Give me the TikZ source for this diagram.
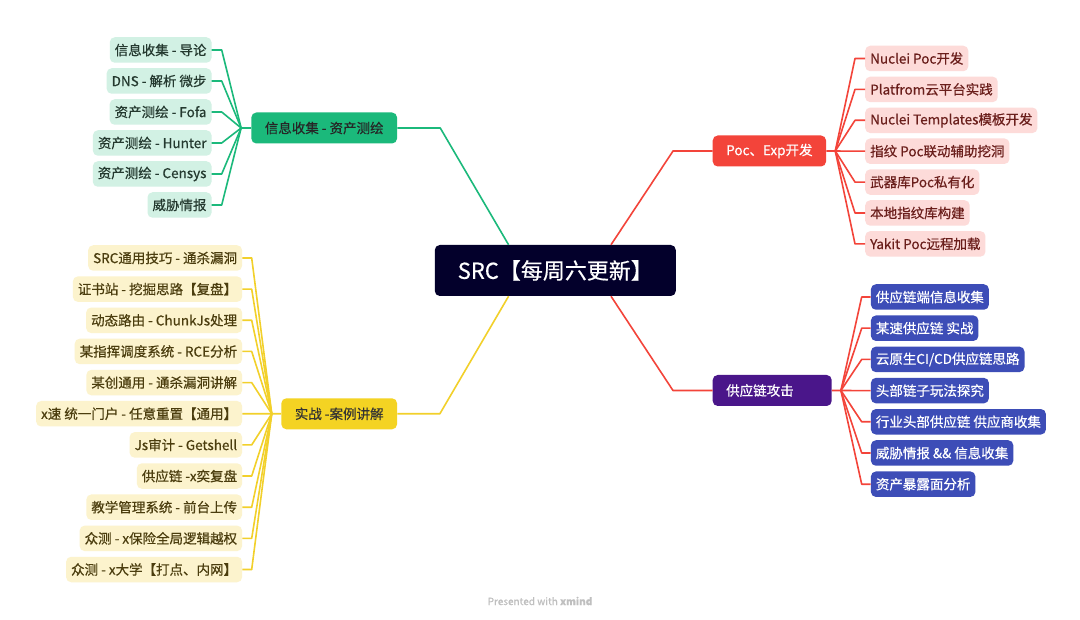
\documentclass[tikz,border=0pt]{standalone}
\usepackage{fontspec}
\newfontfamily\cjk[FakeBold=0.5]{Noto Sans CJK SC}
\usetikzlibrary{positioning}
\definecolor{srcnavy}{HTML}{03002B}
\definecolor{infogreen}{HTML}{1BB97B}
\definecolor{infolight}{HTML}{D2F1E4}
\definecolor{infotext}{HTML}{24392F}
\definecolor{pocred}{HTML}{F3443A}
\definecolor{poclight}{HTML}{FDDBD9}
\definecolor{poctext}{HTML}{6A1E1B}
\definecolor{chainpurple}{HTML}{4A168A}
\definecolor{chainblue}{HTML}{3D4DB7}
\definecolor{caseyellow}{HTML}{F4D323}
\definecolor{caselight}{HTML}{FCF3CD}
\definecolor{casetext}{HTML}{4B3D0E}
\definecolor{casewire}{HTML}{F2D02A}
\tikzset{
  rootnode/.style={rounded corners=5pt,fill=srcnavy,text=white,
    font=\cjk\fontsize{22}{26}\selectfont,
    minimum width=241pt,minimum height=51pt,inner sep=0pt},
  topic/.style={rounded corners=5pt,font=\cjk\fontsize{13.5}{16}\selectfont,
    minimum height=31pt,inner xsep=13.5pt,inner ysep=0pt},
  leaf/.style={rounded corners=5pt,font=\cjk\fontsize{13.5}{16}\selectfont,
    minimum height=25.5pt,inner xsep=5pt,inner ysep=0pt},
  greenleaf/.style={leaf,fill=infolight,text=infotext,anchor=east},
  redleaf/.style={leaf,fill=poclight,text=poctext,anchor=west},
  blueleaf/.style={leaf,fill=chainblue,text=white,anchor=west},
  yellowleaf/.style={leaf,fill=caselight,text=casetext,anchor=east},
  wire/.style={line width=1.6pt,line join=round},
  greenwire/.style={wire,draw=infogreen},
  redwire/.style={wire,draw=pocred},
  yellowwire/.style={wire,draw=casewire}
}
\begin{document}
\begin{tikzpicture}[x=1pt,y=-1pt]
  \fill[white] (0,0) rectangle (1080,620);

  \node [rootnode] (src) at (555.3,270.5) {SRC【每周六更新】};

  % main topics
  \node [topic,fill=infogreen,text=black!85] (info) at (324.2,128) {信息收集 - 资产测绘};
  \node [topic,fill=pocred,text=white] (poc) at (769.4,151) {Poc、Exp开发};
  \node [topic,fill=chainpurple,text=white,text width=92pt,align=left] (chain) at (772.2,390.5) {供应链攻击};
  \node [topic,fill=caseyellow,text=black!80] (case) at (339.2,413.8) {实战 -案例讲解};

  \draw [greenwire] (info.east) -- ([xshift=43pt]info.east) -- ([xshift=74pt]src.north west);
  \draw [redwire] (poc.west) -- ([xshift=-39.5pt]poc.west) -- ([xshift=-65pt]src.north east);
  \draw [redwire] ([xshift=-65pt]src.south east) -- ([xshift=-39.5pt]chain.west) -- (chain.west);
  \draw [yellowwire] ([xshift=74pt]src.south west) -- ([xshift=42.6pt]case.east) -- (case.east);

  \coordinate (infoj) at ([xshift=-10pt]info.west);
  \coordinate (pocj) at ([xshift=9pt]poc.east);
  \coordinate (chainj) at ([xshift=9pt]chain.east);
  \coordinate (casej) at ([xshift=-9.4pt]case.west);

  % green branch
  \node [greenleaf] (i1) at (211.7,50) {信息收集 - 导论};
  \node [greenleaf] (i2) at ([yshift=-31pt]i1.east) {DNS - 解析 微步};
  \node [greenleaf] (i3) at ([yshift=-31pt]i2.east) {资产测绘 - Fofa};
  \node [greenleaf] (i4) at ([yshift=-31pt]i3.east) {资产测绘 - Hunter};
  \node [greenleaf] (i5) at ([yshift=-31pt]i4.east) {资产测绘 - Censys};
  \node [greenleaf] (i6) at ([yshift=-31pt]i5.east) {威胁情报};
  \draw [greenwire] (info.west) -- (infoj) -- ([xshift=10pt]i1.east) -- (i1.east);
  \draw [greenwire] (infoj) -- ([xshift=10pt]i2.east) -- (i2.east);
  \draw [greenwire] (infoj) -- ([xshift=10pt]i3.east) -- (i3.east);
  \draw [greenwire] (infoj) -- ([xshift=10pt]i4.east) -- (i4.east);
  \draw [greenwire] (infoj) -- ([xshift=10pt]i5.east) -- (i5.east);
  \draw [greenwire] (infoj) -- ([xshift=10pt]i6.east) -- (i6.east);

  % red branch
  \node [redleaf] (p1) at (865,58.5) {Nuclei Poc开发};
  \node [redleaf] (p2) at ([yshift=-30.9pt]p1.west) {Platfrom云平台实践};
  \node [redleaf] (p3) at ([yshift=-30.9pt]p2.west) {Nuclei Templates模板开发};
  \node [redleaf] (p4) at ([yshift=-30.9pt]p3.west) {指纹 Poc联动辅助挖洞};
  \node [redleaf] (p5) at ([yshift=-30.9pt]p4.west) {武器库Poc私有化};
  \node [redleaf] (p6) at ([yshift=-30.9pt]p5.west) {本地指纹库构建};
  \node [redleaf] (p7) at ([yshift=-30.9pt]p6.west) {Yakit Poc远程加载};
  \draw [redwire] (poc.east) -- (pocj) -- ([xshift=-10pt]p1.west) -- (p1.west);
  \draw [redwire] (pocj) -- ([xshift=-10pt]p2.west) -- (p2.west);
  \draw [redwire] (pocj) -- ([xshift=-10pt]p3.west) -- (p3.west);
  \draw [redwire] (pocj) -- ([xshift=-10pt]p4.west) -- (p4.west);
  \draw [redwire] (pocj) -- ([xshift=-10pt]p5.west) -- (p5.west);
  \draw [redwire] (pocj) -- ([xshift=-10pt]p6.west) -- (p6.west);
  \draw [redwire] (pocj) -- ([xshift=-10pt]p7.west) -- (p7.west);

  % purple branch
  \node [blueleaf] (c1) at (870.7,297) {供应链端信息收集};
  \node [blueleaf] (c2) at ([yshift=-31.2pt]c1.west) {某速供应链 实战};
  \node [blueleaf] (c3) at ([yshift=-31.2pt]c2.west) {云原生CI/CD供应链思路};
  \node [blueleaf] (c4) at ([yshift=-31.2pt]c3.west) {头部链子玩法探究};
  \node [blueleaf] (c5) at ([yshift=-31.2pt]c4.west) {行业头部供应链 供应商收集};
  \node [blueleaf] (c6) at ([yshift=-31.2pt]c5.west) {威胁情报 \&\& 信息收集};
  \node [blueleaf] (c7) at ([yshift=-31.2pt]c6.west) {资产暴露面分析};
  \draw [redwire] (chain.east) -- (chainj) -- ([xshift=-9pt]c1.west) -- (c1.west);
  \draw [redwire] (chainj) -- ([xshift=-9pt]c2.west) -- (c2.west);
  \draw [redwire] (chainj) -- ([xshift=-9pt]c3.west) -- (c3.west);
  \draw [redwire] (chainj) -- ([xshift=-9pt]c4.west) -- (c4.west);
  \draw [redwire] (chainj) -- ([xshift=-9pt]c5.west) -- (c5.west);
  \draw [redwire] (chainj) -- ([xshift=-9pt]c6.west) -- (c6.west);
  \draw [redwire] (chainj) -- ([xshift=-9pt]c7.west) -- (c7.west);

  % yellow branch
  \node [yellowleaf] (k1) at (242.3,258) {SRC通用技巧 - 通杀漏洞};
  \node [yellowleaf] (k2) at ([yshift=-31.15pt]k1.east) {证书站 - 挖掘思路【复盘】};
  \node [yellowleaf] (k3) at ([yshift=-31.15pt]k2.east) {动态路由 - ChunkJs处理};
  \node [yellowleaf] (k4) at ([yshift=-31.15pt]k3.east) {某指挥调度系统 - RCE分析};
  \node [yellowleaf] (k5) at ([yshift=-31.15pt]k4.east) {某创通用 - 通杀漏洞讲解};
  \node [yellowleaf] (k6) at ([yshift=-31.15pt]k5.east) {x速 统一门户 - 任意重置【通用】};
  \node [yellowleaf] (k7) at ([yshift=-31.15pt]k6.east) {Js审计 - Getshell};
  \node [yellowleaf] (k8) at ([yshift=-31.15pt]k7.east) {供应链 -x奕复盘};
  \node [yellowleaf] (k9) at ([yshift=-31.15pt]k8.east) {教学管理系统 - 前台上传};
  \node [yellowleaf] (k10) at ([yshift=-31.15pt]k9.east) {众测 - x保险全局逻辑越权};
  \node [yellowleaf] (k11) at ([yshift=-31.15pt]k10.east) {众测 - x大学【打点、内网】};
  \draw [yellowwire] (case.west) -- (casej) -- ([xshift=9.4pt]k1.east) -- (k1.east);
  \draw [yellowwire] (casej) -- ([xshift=9.4pt]k2.east) -- (k2.east);
  \draw [yellowwire] (casej) -- ([xshift=9.4pt]k3.east) -- (k3.east);
  \draw [yellowwire] (casej) -- ([xshift=9.4pt]k4.east) -- (k4.east);
  \draw [yellowwire] (casej) -- ([xshift=9.4pt]k5.east) -- (k5.east);
  \draw [yellowwire] (casej) -- ([xshift=9.4pt]k6.east) -- (k6.east);
  \draw [yellowwire] (casej) -- ([xshift=9.4pt]k7.east) -- (k7.east);
  \draw [yellowwire] (casej) -- ([xshift=9.4pt]k8.east) -- (k8.east);
  \draw [yellowwire] (casej) -- ([xshift=9.4pt]k9.east) -- (k9.east);
  \draw [yellowwire] (casej) -- ([xshift=9.4pt]k10.east) -- (k10.east);
  \draw [yellowwire] (casej) -- ([xshift=9.4pt]k11.east) -- (k11.east);

  \node [font=\cjk\fontsize{10}{12}\selectfont,text=black!25] (footer) at (540,601) {Presented with \textbf{xmind}};
\end{tikzpicture}
\end{document}
